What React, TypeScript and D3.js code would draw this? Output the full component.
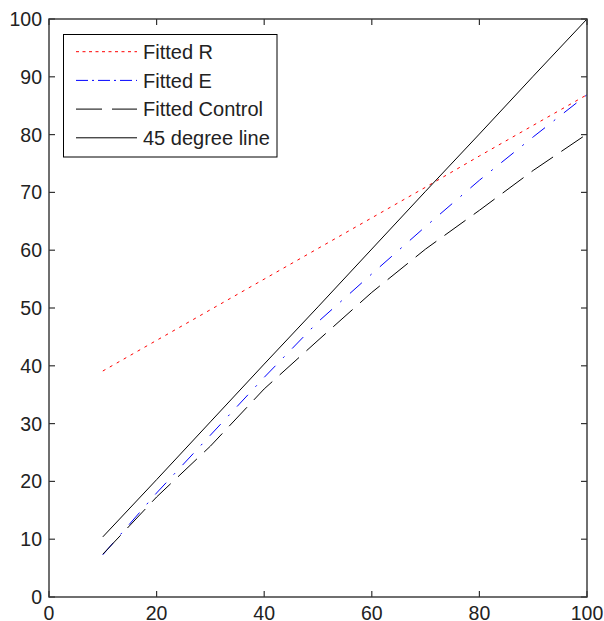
import React from "react";
import * as d3 from "d3";

const xs = [10, 20, 30, 40, 50, 60, 70, 80, 90, 100];
const fittedR = [39.1, 44.4, 49.7, 55.0, 60.3, 65.6, 70.9, 76.3, 81.6, 86.9];
const fittedE = [7.3, 18.0, 28.0, 38.0, 47.6, 55.9, 64.1, 72.1, 79.6, 86.9];
const fittedControl = [7.4, 17.3, 26.1, 36.0, 44.4, 52.7, 60.2, 66.9, 73.8, 80.1];
const line45 = [10.4, 20.3, 30.3, 40.3, 50.2, 60.2, 70.2, 80.1, 90.1, 100];
const xTicks = [0, 20, 40, 60, 80, 100];
const yTicks = [0, 10, 20, 30, 40, 50, 60, 70, 80, 90, 100];

const seriesNames = ["Fitted R", "Fitted E", "Fitted Control", "45 degree line"];
const seriesValues = [fittedR, fittedE, fittedControl, line45];
const seriesColors = ["#ff0000", "#0000ff", "#000000", "#000000"];
const seriesDash = ["3,5", "16,11,2,11", "26,10", "none"];
const legendDash = ["3,3.5", "12,4,2,4", "26,10", "none"];

const W = 604, H = 621;
const L = 49, R = 587, T = 19, B = 597;
const FONT = "'Liberation Sans', Arial, sans-serif";

export default function App() {
  const x = d3.scaleLinear().domain([0, 100]).range([L, R]);
  const y = d3.scaleLinear().domain([0, 100]).range([B, T]);
  const line = d3
    .line<number>()
    .x((_, i) => x(xs[i]))
    .y((d) => y(d));
  const tickLen = 6;
  const axisColor = "#333";

  return (
    <svg
      width={W}
      height={H}
      style={{ position: "fixed", left: 0, top: 0, background: "#fff" }}
      fontFamily={FONT}
    >
      <rect x={0} y={0} width={W} height={H} fill="#fff" />
      <g>
        {seriesValues.map((vals, i) => (
          <path
            key={i}
            d={line(vals) || ""}
            fill="none"
            stroke={seriesColors[i]}
            strokeWidth={1}
            strokeDasharray={seriesDash[i]}
          />
        ))}
      </g>
      <rect x={L} y={T} width={R - L} height={B - T} fill="none" stroke={axisColor} strokeWidth={1.4} />
      {xTicks.map((t) => (
        <g key={"x" + t}>
          <line x1={x(t)} x2={x(t)} y1={B} y2={B - tickLen} stroke={axisColor} strokeWidth={1.2} />
          <line x1={x(t)} x2={x(t)} y1={T} y2={T + tickLen} stroke={axisColor} strokeWidth={1.2} />
          <text x={x(t)} y={619.5} textAnchor="middle" fontSize={19.5} fill="#222">
            {t}
          </text>
        </g>
      ))}
      {yTicks.map((t) => (
        <g key={"y" + t}>
          <line x1={L} x2={L + tickLen} y1={y(t)} y2={y(t)} stroke={axisColor} strokeWidth={1.2} />
          <line x1={R} x2={R - tickLen} y1={y(t)} y2={y(t)} stroke={axisColor} strokeWidth={1.2} />
          <text x={42} y={y(t)} dy="0.36em" textAnchor="end" fontSize={19.5} fill="#222">
            {t}
          </text>
        </g>
      ))}
      <rect x={63.5} y={34.5} width={213.5} height={122.5} fill="#fff" stroke="#000" strokeWidth={1} />
      {seriesNames.map((name, i) => {
        const cy = 51.7 + i * 28.7;
        return (
          <g key={name}>
            <line
              x1={76}
              x2={137}
              y1={cy}
              y2={cy}
              stroke={seriesColors[i]}
              strokeWidth={1}
              strokeDasharray={legendDash[i]}
            />
            <text x={143} y={cy} dy="0.36em" fontSize={20} fill="#222">
              {name}
            </text>
          </g>
        );
      })}
    </svg>
  );
}
